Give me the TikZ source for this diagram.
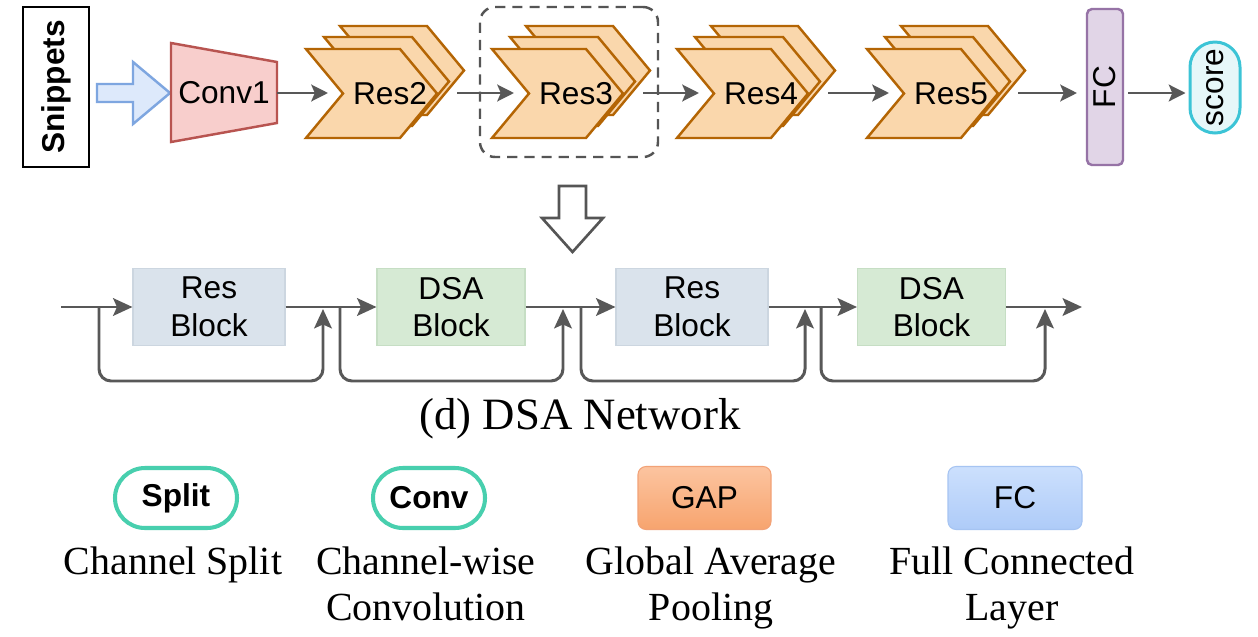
\documentclass[tikz,border=0pt]{standalone}
\usepackage{fontspec}
\usepackage{graphicx}
\setmainfont{Liberation Serif}
\setsansfont{Liberation Sans}
\usetikzlibrary{arrows.meta,calc}

% one drawing unit (pixel-like grid)
\newdimen\ux \ux=0.02cm

\definecolor{linegray}{HTML}{585858}
\definecolor{dashgray}{HTML}{555555}
\definecolor{resfill}{HTML}{FAD7AC}
\definecolor{resedge}{HTML}{B46504}
\definecolor{convfill}{HTML}{F8CECC}
\definecolor{convedge}{HTML}{B85450}
\definecolor{inpfill}{HTML}{DDE9FB}
\definecolor{inpedge}{HTML}{7EA6E0}
\definecolor{fcfill}{HTML}{E1D5E7}
\definecolor{fcedge}{HTML}{9673A6}
\definecolor{scorefill}{HTML}{E6F7F9}
\definecolor{scoreedge}{HTML}{3CC4D6}
\definecolor{resblk}{HTML}{DAE3EC}
\definecolor{resblkedge}{HTML}{CCD6E0}
\definecolor{dsablk}{HTML}{D6EAD4}
\definecolor{dsablkedge}{HTML}{C6DEC4}
\definecolor{pilledge}{HTML}{48CFAE}
\definecolor{gaptop}{HTML}{FCC4A0}
\definecolor{gapbot}{HTML}{F7A46E}
\definecolor{gapedge}{HTML}{F2A277}
\definecolor{lfctop}{HTML}{CCE0FD}
\definecolor{lfcbot}{HTML}{AECBF8}
\definecolor{lfcedge}{HTML}{A6C4F2}

\newcommand\sfbig{\sffamily\fontsize{18}{21.5}\selectfont}
\newcommand\legtext{\rmfamily\fontsize{22.7}{26.6}\selectfont}
\newcommand\captext{\rmfamily\fontsize{25.5}{30}\selectfont}

% a single chevron: left x, top y, width (height 89, point depth 37)
\newcommand\chevron[3]{%
  \draw[chev] (#1,#2) -- (#1+#3-37,#2) -- (#1+#3,#2+44.5)
    -- (#1+#3-37,#2+89) -- (#1,#2+89) -- (#1+37,#2+44.5) -- cycle;}
% a stack of three chevrons with its label and connection points
\newcommand\resstack[3]{%
  \chevron{#1+34}{26}{124}
  \chevron{#1+18}{37}{125}
  \chevron{#1}{49}{131}
  \node[lbl] (#3) at (#1+84,93.5) {#2};
  \coordinate (#3-in) at (#1+22,93);
  \coordinate (#3-out) at (#1+151,93);}

\begin{document}
\begin{tikzpicture}[x=0.02cm, y=-0.02cm,
  lbl/.style={font=\sfbig, inner sep=0pt},
  chev/.style={draw=resedge, fill=resfill, line width=1.4pt, line join=miter},
  arr/.style={draw=linegray, line width=1.7pt,
    -{Stealth[length=9.5pt,width=9.5pt,inset=2pt]}},
  barr/.style={draw=linegray, line width=1.7pt,
    -{Stealth[length=11pt,width=10pt,inset=2.2pt]}},
  blk/.style={font=\sfbig, align=center, inner sep=0pt, line width=0.6pt,
    minimum height=77\ux},
  pill/.style={draw=pilledge, fill=white, line width=2.3pt,
    minimum width=#1, minimum height=60\ux, rounded corners=30\ux,
    inner sep=0pt, font=\sfbig\bfseries},
  legbox/.style={rounded corners=8\ux, line width=0.6pt,
    minimum width=134\ux, minimum height=63\ux, inner sep=0pt, font=\sfbig},
  legtxt/.style={font=\legtext, align=center, inner sep=0pt}]

\fill[white] (0,0) rectangle (1258,636);
\useasboundingbox (0,0) rectangle (1258,636);

% ---------- backbone ----------
\node[draw=black, fill=white, line width=1.6pt, inner sep=0pt,
  minimum width=66\ux, minimum height=160\ux, font=\sfbig\bfseries]
  (snip) at (56,87) {\rotatebox{90}{Snippets}};

% input arrow
\draw[draw=inpedge, fill=inpfill, line width=1.4pt, line join=miter]
  (97,84) -- (133,84) -- (133,62) -- (170,93) -- (133,124) -- (133,102)
  -- (97,102) -- cycle;

% Conv1 trapezoid
\draw[draw=convedge, fill=convfill, line width=1.4pt, line join=miter]
  (171,43) -- (277,62) -- (277,123) -- (171,142) -- cycle;
\node[lbl] (conv1) at (224,93) {Conv1};
\coordinate (conv1-out) at (277,93);

% residual stages
\resstack{306}{Res2}{res2}
\resstack{492}{Res3}{res3}
\resstack{677}{Res4}{res4}
\resstack{867}{Res5}{res5}

% highlighted stage
\node[draw=dashgray, line width=1.4pt, dash pattern=on 5.8pt off 4pt,
  rounded corners=15\ux, minimum width=178\ux, minimum height=150\ux,
  inner sep=0pt] (grp) at (569,82) {};

% classifier
\node[draw=fcedge, fill=fcfill, line width=1.4pt, rounded corners=5\ux,
  minimum width=36\ux, minimum height=156\ux, inner sep=0pt, font=\sfbig]
  (fc) at (1105,87) {\rotatebox{90}{FC}};
\node[draw=scoreedge, fill=scorefill, line width=1.7pt, rounded corners=25\ux,
  minimum width=50\ux, minimum height=91\ux, inner sep=0pt, font=\sfbig]
  (score) at (1215,87.5) {\rotatebox{90}{score}};

% backbone connectors
\draw[arr] (conv1-out) -- (res2-in);
\draw[arr] (res2-out) -- (res3-in);
\draw[arr] (res3-out) -- (res4-in);
\draw[arr] (res4-out) -- (res5-in);
\draw[arr, shorten >=5pt] (res5-out) -- (res5-out -| fc.west);
\draw[arr, shorten <=2.3pt, shorten >=1.7pt] (fc.east |- res5-out) -- (score.west |- res5-out);

% expansion arrow
\draw[draw=dashgray, fill=white, line width=1.5pt, line join=miter]
  (559,186) -- (586,186) -- (586,218) -- (603,218) -- (572.5,252)
  -- (542,218) -- (559,218) -- cycle;

% ---------- DSA network ----------
\node[blk, fill=resblk, draw=resblkedge, minimum width=152\ux] (rb1) at (209,307) {Res\\Block};
\node[blk, fill=dsablk, draw=dsablkedge, minimum width=148\ux] (db1) at (451,307) {DSA\\Block};
\node[blk, fill=resblk, draw=resblkedge, minimum width=152\ux] (rb2) at (692,307) {Res\\Block};
\node[blk, fill=dsablk, draw=dsablkedge, minimum width=148\ux] (db2) at (931.5,307) {DSA\\Block};

\coordinate (start) at (61,307);
\coordinate (end) at (1082,307);

\draw[barr] (start) -- (rb1.west);
\draw[barr] (rb1.east) -- (db1.west);
\draw[barr] (db1.east) -- (rb2.west);
\draw[barr] (rb2.east) -- (db2.west);
\draw[barr] (db2.east) -- (end);

% identity shortcuts
\coordinate (j1) at (99,307);  \coordinate (k1) at (323,381);  \coordinate (m1) at (323,309);
\coordinate (j2) at (340,307); \coordinate (k2) at (563,381);  \coordinate (m2) at (563,309);
\coordinate (j3) at (581,307); \coordinate (k3) at (805,381);  \coordinate (m3) at (805,309);
\coordinate (j4) at (821,307); \coordinate (k4) at (1045,381); \coordinate (m4) at (1045,309);
\foreach \i in {1,2,3,4}
  \draw[barr, rounded corners=12\ux] (j\i) |- (k\i) -- (m\i);

\node[font=\captext, inner sep=0pt] (cap) at (580,419) {(d) DSA Network};

% ---------- legend ----------
\node[pill=122\ux] (split) at (176,498) {Split};
\node[pill=112\ux] (conv) at (429,498) {Conv};
\node[legbox, draw=gapedge, top color=gaptop, bottom color=gapbot, minimum width=133\ux]
  (gap) at (704.5,498) {GAP};
\node[legbox, draw=lfcedge, top color=lfctop, bottom color=lfcbot]
  (lfc) at (1015,498) {FC};

\node[legtxt, anchor=north] (splitlbl) at (173,546) {Channel Split};
\node[legtxt, anchor=north] (convlbl) at (426,546) {Channel-wise\\Convolution};
\node[legtxt, anchor=north] (gaplbl) at (711,546) {Global Average\\Pooling};
\node[legtxt, anchor=north] (fclbl) at (1012,546) {Full Connected\\Layer};

\end{tikzpicture}
\end{document}
